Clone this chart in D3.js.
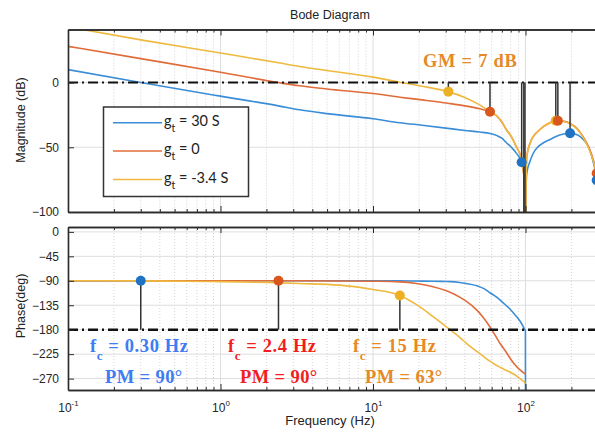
<!DOCTYPE html>
<html>
<head>
<meta charset="utf-8">
<script src="https://cdn.jsdelivr.net/npm/d3@7"></script>
<style>
  body { margin: 0; background: #fff; }
  svg { display: block; }
</style>
</head>
<body>
<svg id="chart" width="595" height="434"></svg>
<script>
// ---- data ----
const seriesNames = ['g_t = 30 S', 'g_t = 0', 'g_t = -3.4 S'];

const magFreq   = [0.1, 0.3, 1, 2.4, 3.3, 5, 10, 15, 21, 31, 40, 50, 58.5, 65, 70, 75, 80, 87, 94, 98, 99.6, 100, 100.4, 102, 107, 112, 120, 131, 145, 160, 175, 196, 220, 239, 260, 279, 300];
const magBlue   = [10, 0, -10.5, -18, -21, -24, -28, -31, -33, -35.4, -37, -38.2, -39.3, -41, -43, -46.5, -49.5, -54.5, -61.5, -72, -90, -140, -90, -70, -61, -55, -50, -46.5, -44, -41.5, -40, -39.2, -40.5, -44, -50, -62, -80];
const magOrange = [28, 18.5, 8, 0, -2.5, -5, -8.5, -11.3, -13.4, -16, -18, -20.3, -22.5, -26, -30.5, -36.5, -41, -49.5, -59, -75, -95, -140, -95, -57, -47, -42, -38, -34, -31, -29.5, -29.8, -31.5, -36, -42, -50, -60, -76];
const magYellow = [43, 33, 22.8, 15.3, 12.4, 9.3, 4.2, 0.3, -2.8, -7, -11.5, -17.2, -22.5, -25.8, -30.2, -36.5, -41, -49.5, -59, -75, -95, -140, -95, -57, -47, -42, -38, -34, -31, -29.6, -29.9, -31.8, -36.5, -42.5, -51, -61, -77];

const phaseFreq   = [0.1, 0.3, 0.6, 1, 2, 3.3, 6, 10, 15, 19.3, 24.8, 30, 32, 37, 41, 48, 53, 58.5, 64.7, 68, 75, 79, 85, 92, 96, 98, 99.9];
const phaseBlue   = [-90, -90, -90, -90, -90, -90, -90, -90, -90.2, -90.4, -90.8, -91.3, -91.5, -93, -95, -99, -104, -112, -120, -125, -136, -142, -152, -164, -173, -178, -182];
const phaseOrange = [-90, -90, -90, -90, -90, -90, -90.3, -90.8, -92, -95, -101, -108, -111, -120, -128, -144, -158, -175, -195, -205, -222, -232, -244, -254, -258, -260, -262];
const phaseYellow = [-90, -90.2, -90.8, -91.5, -93, -95, -98, -106, -117, -134, -156, -174, -180, -194, -205, -220, -229, -238, -246, -249, -255, -258, -263, -270, -274, -276, -279];
const blueDropPhase = -330;   // blue phase falls off the bottom at the 100 Hz notch

// gain-margin stems (magnitude) and phase-margin stems (phase)
const gmSeries = [2, 1, 0, 1, 2, 2, 1, 0, 1, 0];
const gmFreq   = [31.2, 58.5, 94.4, 97.5, 99.2, 158, 163, 196, 293, 293];
const gmMag    = [-7, -22.5, -61.5, -140, -140, -29.5, -29.5, -39.2, -70, -75.5];

const pmSeries = [0, 1, 2];
const pmFreq   = [0.30, 2.4, 15];
const pmPhase  = [-90, -90, -117];

const magTicks   = [-100, -50, 0];
const phaseTicks = [0, -45, -90, -135, -180, -225, -270];
const decadeExp  = [-1, 0, 1, 2, 3];
const labelExp   = [-1, 0, 1, 2];

const fcLabels = ['0.30 Hz', '2.4 Hz', '15 Hz'];
const pmLabels = ['PM = 90°', 'PM = 90°', 'PM = 63°'];
const gmLabel  = 'GM = 7 dB';

// ---- styling ----
const lineColors   = ['#3A8DD6', '#E06C3A', '#EFB93F'];
const markerColors = ['#1F72C4', '#D9561C', '#EDB022'];
const textColors   = ['#3D7CF2', '#F01E1E', '#E58A26'];
const sans = '"Liberation Sans", Arial, sans-serif';
const serif = '"Liberation Serif", "Times New Roman", serif';

const svg = d3.select('#chart');
const left = 68;
const decades = decadeExp.map(e => Math.pow(10, e));
const labelDecades = labelExp.map(e => Math.pow(10, e));
const x = d3.scaleLog().domain([0.1, 1000]).range([left, left + 4 * 152.5]);
const right = x(1000);

const minors = [];
decades.slice(0, -1).forEach(d => { for (let k = 2; k <= 9; k++) minors.push(d * k); });

const magPanel   = { top: 29.5, bottom: 212, y: d3.scaleLinear().domain([-100, 41]).range([212, 29.5]), ticks: magTicks, id: 'clipMag' };
const phasePanel = { top: 227, bottom: 390, y: d3.scaleLinear().domain([-291, 9]).range([390, 227]), ticks: phaseTicks, id: 'clipPh' };

const defs = svg.append('defs');
[magPanel, phasePanel].forEach(p => {
  defs.append('clipPath').attr('id', p.id).append('rect')
    .attr('x', left).attr('y', p.top).attr('width', right - left).attr('height', p.bottom - p.top);
});

function drawFrame(p) {
  const g = svg.append('g');
  g.selectAll('.minor').data(minors).enter().append('line')
    .attr('x1', d => x(d)).attr('x2', d => x(d)).attr('y1', p.top).attr('y2', p.bottom)
    .attr('stroke', '#c8c8c8').attr('stroke-width', 0.8).attr('stroke-dasharray', '1,2');
  g.selectAll('.major').data(decades).enter().append('line')
    .attr('x1', d => x(d)).attr('x2', d => x(d)).attr('y1', p.top).attr('y2', p.bottom)
    .attr('stroke', '#dedede').attr('stroke-width', 1);
  g.selectAll('.hgrid').data(p.ticks).enter().append('line')
    .attr('x1', left).attr('x2', right).attr('y1', d => p.y(d)).attr('y2', d => p.y(d))
    .attr('stroke', '#dedede').attr('stroke-width', 1);
}

function drawAxes(p, withLabels) {
  const ax = svg.append('g');
  ax.append('g').attr('transform', `translate(0,${p.bottom})`)
    .call(d3.axisBottom(x).tickValues(decades).tickSize(-6).tickSizeOuter(0).tickFormat(''));
  ax.append('g').attr('transform', `translate(0,${p.bottom})`)
    .call(d3.axisBottom(x).tickValues(minors).tickSize(-3).tickSizeOuter(0).tickFormat(''));
  ax.append('g').attr('transform', `translate(0,${p.top})`)
    .call(d3.axisTop(x).tickValues(decades).tickSize(-6).tickSizeOuter(0).tickFormat(''));
  ax.append('g').attr('transform', `translate(0,${p.top})`)
    .call(d3.axisTop(x).tickValues(minors).tickSize(-3).tickSizeOuter(0).tickFormat(''));
  ax.append('g').attr('transform', `translate(${left},0)`)
    .call(d3.axisLeft(p.y).tickValues(p.ticks).tickSize(-6).tickSizeOuter(0).tickPadding(9));
  let labels = null;
  if (withLabels) {
    labels = ax.append('g').attr('transform', `translate(0,${p.bottom})`)
      .call(d3.axisBottom(x).tickValues(labelDecades).tickSize(0).tickPadding(13).tickFormat(''));
    labels.select('path.domain').remove();
  }
  ax.selectAll('path.domain').attr('stroke', '#2b2b2b').attr('stroke-width', 1.6);
  ax.selectAll('.tick line').attr('stroke', '#2b2b2b').attr('stroke-width', 1);
  ax.selectAll('text').attr('font-family', sans).attr('font-size', 12).attr('fill', '#262626');
  if (labels) {
    labels.selectAll('.tick text').each(function (d) {
      const t = d3.select(this);
      t.text('10');
      t.append('tspan').attr('font-size', 8).attr('dy', -6).text(Math.round(Math.log10(d)));
    });
  }
}

// ---- magnitude ----
drawFrame(magPanel);
const mag = svg.append('g').attr('clip-path', 'url(#clipMag)');
const magLine = d3.line().x(d => x(d[0])).y(d => magPanel.y(d[1])).curve(d3.curveMonotoneX);
[magBlue, magOrange, magYellow].forEach((vals, i) => {
  mag.append('path').datum(d3.zip(magFreq, vals))
    .attr('d', magLine).attr('fill', 'none')
    .attr('stroke', lineColors[i]).attr('stroke-width', 1.6);
});
mag.append('line').attr('x1', left).attr('x2', right)
  .attr('y1', magPanel.y(0)).attr('y2', magPanel.y(0))
  .attr('stroke', '#111').attr('stroke-width', 2).attr('stroke-dasharray', '10,4,2,4');
const gm = d3.range(gmFreq.length).map(i => ({ s: gmSeries[i], f: gmFreq[i], v: gmMag[i] }));
mag.selectAll('.gmstem').data(gm).enter().append('line')
  .attr('x1', d => x(d.f)).attr('x2', d => x(d.f))
  .attr('y1', magPanel.y(0)).attr('y2', d => magPanel.y(d.v))
  .attr('stroke', '#333').attr('stroke-width', 1.5);
mag.selectAll('.gmdot').data(gm.filter(d => d.v > -100)).enter().append('circle')
  .attr('cx', d => x(d.f)).attr('cy', d => magPanel.y(d.v)).attr('r', 5)
  .attr('fill', d => markerColors[d.s]);
drawAxes(magPanel, false);

svg.append('text').attr('x', 423).attr('y', 67)
  .attr('font-family', serif).attr('font-weight', 'bold').attr('font-size', 18.5)
  .attr('letter-spacing', 0.7).attr('fill', textColors[2]).text(gmLabel);

// legend
const lg = svg.append('g');
lg.append('rect').attr('x', 103.5).attr('y', 107).attr('width', 145).attr('height', 89.5)
  .attr('fill', '#fff').attr('stroke', '#333').attr('stroke-width', 1.5);
seriesNames.forEach((name, i) => {
  const ly = 122.7 + i * 28.4;
  lg.append('line').attr('x1', 113).attr('x2', 162).attr('y1', ly).attr('y2', ly)
    .attr('stroke', lineColors[i]).attr('stroke-width', 1.5);
  const [base, rest] = name.split('_');
  const t = lg.append('text').attr('x', 164).attr('y', ly + 3)
    .attr('font-family', 'Lato, "Open Sans", sans-serif').attr('font-size', 14.5).attr('fill', '#222');
  t.append('tspan').text(base);
  t.append('tspan').attr('font-size', 10.5).attr('dy', 6).text(rest[0]);
  t.append('tspan').attr('dy', -6).text(rest.slice(1));
});

// ---- phase ----
drawFrame(phasePanel);
const ph = svg.append('g').attr('clip-path', 'url(#clipPh)');
const phLine = d3.line().x(d => x(d[0])).y(d => phasePanel.y(d[1])).curve(d3.curveMonotoneX);
[phaseBlue, phaseOrange, phaseYellow].forEach((vals, i) => {
  const pts = d3.zip(phaseFreq, vals);
  let dPath = phLine(pts);
  if (i === 0) dPath += `L${x(100)},${phasePanel.y(blueDropPhase)}`;
  ph.append('path').attr('d', dPath)
    .attr('fill', 'none').attr('stroke', lineColors[i]).attr('stroke-width', 1.6);
});
ph.append('line').attr('x1', left).attr('x2', right)
  .attr('y1', phasePanel.y(-180)).attr('y2', phasePanel.y(-180))
  .attr('stroke', '#111').attr('stroke-width', 2.4).attr('stroke-dasharray', '10,4,2,4');
const pm = d3.range(pmFreq.length).map(i => ({ s: pmSeries[i], f: pmFreq[i], v: pmPhase[i] }));
ph.selectAll('.pmstem').data(pm).enter().append('line')
  .attr('x1', d => x(d.f)).attr('x2', d => x(d.f))
  .attr('y1', phasePanel.y(-180)).attr('y2', d => phasePanel.y(d.v))
  .attr('stroke', '#333').attr('stroke-width', 1.5);
ph.selectAll('.pmdot').data(pm).enter().append('circle')
  .attr('cx', d => x(d.f)).attr('cy', d => phasePanel.y(d.v)).attr('r', 5)
  .attr('fill', d => markerColors[d.s]);
drawAxes(phasePanel, true);

// crossover / phase margin annotations
const fcX = [90, 228, 353];
const pmX = [105, 240, 365];
fcLabels.forEach((lab, i) => {
  const t = svg.append('text').attr('x', fcX[i]).attr('y', 351.7)
    .attr('font-family', serif).attr('font-weight', 'bold').attr('font-size', 18.5)
    .attr('letter-spacing', 0.6).attr('fill', textColors[i]);
  t.append('tspan').text('f');
  t.append('tspan').attr('font-size', 13).attr('dy', 8).text('c');
  t.append('tspan').attr('dy', -8).text('  = ' + lab);
  svg.append('text').attr('x', pmX[i]).attr('y', 382.5)
    .attr('font-family', serif).attr('font-weight', 'bold').attr('font-size', 18.5)
    .attr('letter-spacing', 0.4).attr('fill', textColors[i]).text(pmLabels[i]);
});

// titles
svg.append('text').attr('x', 330).attr('y', 19).attr('text-anchor', 'middle')
  .attr('font-family', sans).attr('font-size', 12.5).attr('fill', '#222').text('Bode Diagram');
svg.append('text').attr('x', 330).attr('y', 425).attr('text-anchor', 'middle')
  .attr('font-family', sans).attr('font-size', 13).attr('fill', '#222').text('Frequency (Hz)');
svg.append('text').attr('transform', 'translate(25,120) rotate(-90)').attr('text-anchor', 'middle')
  .attr('font-family', sans).attr('font-size', 12.5).attr('fill', '#222').text('Magnitude (dB)');
svg.append('text').attr('transform', 'translate(25,306) rotate(-90)').attr('text-anchor', 'middle')
  .attr('font-family', sans).attr('font-size', 12.5).attr('fill', '#222').text('Phase(deg)');
</script>
</body>
</html>
